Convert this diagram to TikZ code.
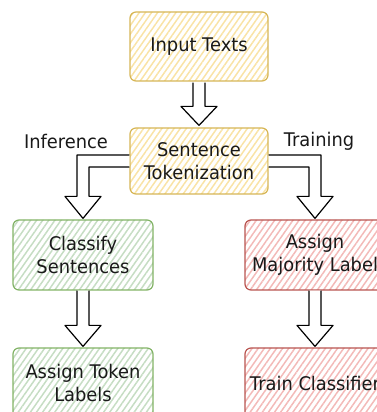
\documentclass[tikz,border=0pt]{standalone}
\usepackage{fontspec}
\setmainfont{DejaVu Sans}[FakeStretch=0.95]
\definecolor{ylwline}{HTML}{D6B656}
\definecolor{ylwfill}{HTML}{F9E3A6}
\definecolor{grnline}{HTML}{82B366}
\definecolor{grnfill}{HTML}{C6DDC3}
\definecolor{redline}{HTML}{B85450}
\definecolor{redfill}{HTML}{F3BAB8}
\usetikzlibrary{calc,patterns.meta}

\tikzset{
  box/.style={rounded corners=6pt,line width=1.2pt,minimum width=138pt,minimum height=68pt,
    align=center,text=black!90,font=\fontsize{18.8}{22.7}\selectfont},
  ylwbox/.style={box,draw=ylwline,pattern={Lines[angle=55,distance=5pt,line width=1.5pt]},pattern color=ylwfill},
  grnbox/.style={box,draw=grnline,pattern={Lines[angle=55,distance=5pt,line width=1.5pt]},pattern color=grnfill},
  redbox/.style={box,draw=redline,pattern={Lines[angle=55,distance=5pt,line width=1.5pt]},pattern color=redfill},
  branchlbl/.style={text=black!90,font=\fontsize{18.8}{22.7}\selectfont},
  blockarr/.style={draw=black,fill=white,line width=1.2pt,line join=round}
}

\begin{document}
\begin{tikzpicture}[x=1pt,y=1pt]
\useasboundingbox (0,0) rectangle (377,412);
\clip (0,0) rectangle (377,412);
% boxes
\node[ylwbox,minimum height=69pt] (in) at (199,365.5) {Input Texts};
\node[ylwbox,minimum height=66pt] (tok) at (199,251) {Sentence\\Tokenization};
\node[grnbox,minimum width=140pt,minimum height=70pt] (cls) at (83,157) {Classify\\Sentences};
\node[grnbox,minimum width=140pt,minimum height=70pt] (tkl) at (83,29) {Assign Token\\Labels};
\node[redbox,minimum width=140pt,minimum height=70pt] (maj) at (315,157) {Assign\\\makebox[0pt]{Majority Label}};
\node[redbox,minimum width=140pt,minimum height=70pt] (trn) at (315,29) {\makebox[0pt]{Train Classifier}};
% branch labels
\node[branchlbl] (inflbl) at (66,271) {Inference};
\node[branchlbl] (trnlbl) at (319,271) {Training};
% block arrows
\draw[blockarr] let \p1=(in.south), \p2=(tok.north) in
  (\x1-6pt,\y1-1pt) -- (\x1-6pt,\y2+21pt) -- (\x1-18pt,\y2+21pt) -- (\x1,\y2+2pt)
  -- (\x1+18pt,\y2+21pt) -- (\x1+6pt,\y2+21pt) -- (\x1+6pt,\y1-1pt);
\draw[blockarr] let \p1=(tok.west), \p2=(cls.north) in
  (\x1,\y1+6pt) -- (\x2-6pt,\y1+6pt) -- (\x2-6pt,\y2+23pt) -- (\x2-18pt,\y2+23pt) -- (\x2,\y2+1pt)
  -- (\x2+18pt,\y2+23pt) -- (\x2+6pt,\y2+23pt) -- (\x2+6pt,\y1-6pt) -- (\x1,\y1-6pt);
\draw[blockarr] let \p1=(tok.east), \p2=(maj.north) in
  (\x1,\y1+6pt) -- (\x2+6pt,\y1+6pt) -- (\x2+6pt,\y2+23pt) -- (\x2+18pt,\y2+23pt) -- (\x2,\y2+1pt)
  -- (\x2-18pt,\y2+23pt) -- (\x2-6pt,\y2+23pt) -- (\x2-6pt,\y1-6pt) -- (\x1,\y1-6pt);
\draw[blockarr] let \p1=(cls.south), \p2=(tkl.north) in
  (\x1-6pt,\y1) -- (\x1-6pt,\y2+22pt) -- (\x1-18pt,\y2+22pt) -- (\x1,\y2+1pt)
  -- (\x1+18pt,\y2+22pt) -- (\x1+6pt,\y2+22pt) -- (\x1+6pt,\y1);
\draw[blockarr] let \p1=(maj.south), \p2=(trn.north) in
  (\x1-6pt,\y1) -- (\x1-6pt,\y2+22pt) -- (\x1-18pt,\y2+22pt) -- (\x1,\y2+1pt)
  -- (\x1+18pt,\y2+22pt) -- (\x1+6pt,\y2+22pt) -- (\x1+6pt,\y1);
\end{tikzpicture}
\end{document}
